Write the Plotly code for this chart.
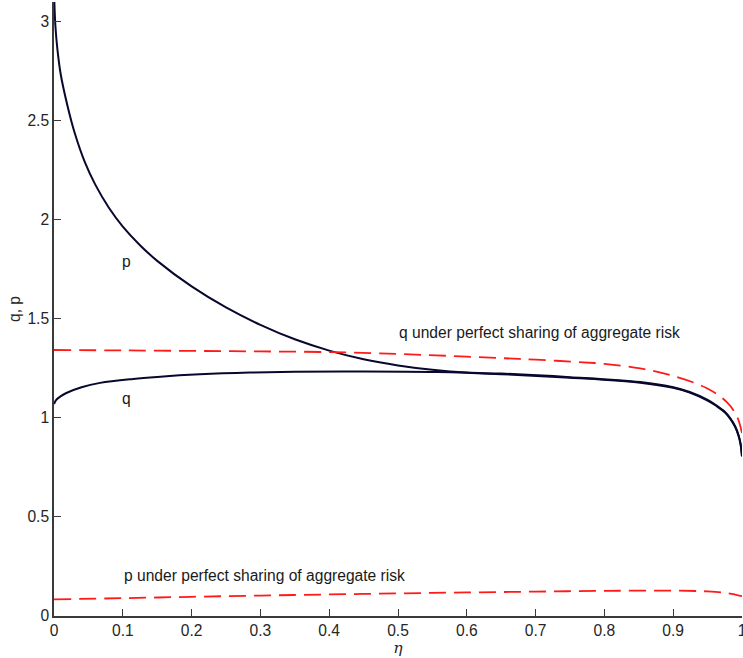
import plotly.graph_objects as go

# eta grid and values
eta_p = [0.0005, 0.002, 0.005, 0.01, 0.02, 0.03, 0.045, 0.06, 0.08, 0.1, 0.125, 0.15,
         0.2, 0.25, 0.3, 0.35, 0.4, 0.45, 0.5, 0.55, 0.6, 0.65, 0.75, 0.852, 0.9, 0.924,
         0.95, 0.963, 0.975, 0.983, 0.99, 0.995, 0.998, 1.0]
p_vals = [3.10, 2.98, 2.86, 2.73, 2.57, 2.44, 2.29, 2.178, 2.06, 1.966, 1.872, 1.793,
          1.664, 1.558, 1.47, 1.397, 1.34, 1.296, 1.265, 1.243, 1.229, 1.224, 1.206, 1.181,
          1.155, 1.131, 1.091, 1.063, 1.031, 0.998, 0.958, 0.913, 0.868, 0.808]

eta_q = [0.0, 0.003, 0.01, 0.018, 0.04, 0.067, 0.115, 0.15, 0.212, 0.285, 0.35, 0.45,
         0.557, 0.65, 0.75, 0.852, 0.9, 0.924, 0.95, 0.963, 0.975, 0.983, 0.99, 0.995,
         0.998, 1.0]
q_vals = [1.07, 1.09, 1.11, 1.126, 1.155, 1.177, 1.197, 1.207, 1.22, 1.229, 1.233, 1.235,
          1.232, 1.221, 1.203, 1.178, 1.152, 1.128, 1.088, 1.06, 1.028, 0.995, 0.955, 0.91,
          0.865, 0.805]

eta_qps = [0.0, 0.1, 0.212, 0.3, 0.406, 0.5, 0.576, 0.65, 0.7, 0.769, 0.8, 0.852, 0.9,
           0.949, 0.978, 0.993, 1.0]
qps_vals = [1.343, 1.341, 1.338, 1.336, 1.332, 1.323, 1.313, 1.302, 1.294, 1.281, 1.273,
            1.25, 1.212, 1.15, 1.08, 1.005, 0.924]

eta_pps = [0.0, 0.1, 0.2, 0.3, 0.4, 0.5, 0.6, 0.7, 0.8, 0.9, 0.95, 0.98, 1.0]
pps_vals = [0.084, 0.09, 0.097, 0.103, 0.109, 0.114, 0.119, 0.123, 0.127, 0.128, 0.124,
            0.115, 0.10]

x_ticks = [0, 0.1, 0.2, 0.3, 0.4, 0.5, 0.6, 0.7, 0.8, 0.9, 1]
x_tick_labels = ["0", "0.1", "0.2", "0.3", "0.4", "0.5", "0.6", "0.7", "0.8", "0.9", "1"]
y_ticks = [0, 0.5, 1, 1.5, 2, 2.5, 3]
y_tick_labels = ["0", "0.5", "1", "1.5", "2", "2.5", "3"]

dark = "#08082e"
red = "#ff1a1a"
FONT = "Liberation Sans, Arial, sans-serif"
FS = 15.6

fig = go.Figure()
fig.add_trace(go.Scatter(x=eta_p, y=p_vals, mode="lines", line=dict(color=dark, width=2),
                         line_shape="spline", showlegend=False))
fig.add_trace(go.Scatter(x=eta_q, y=q_vals, mode="lines", line=dict(color=dark, width=2),
                         line_shape="spline", showlegend=False))
fig.add_trace(go.Scatter(x=eta_qps, y=qps_vals, mode="lines",
                         line=dict(color=red, width=1.8, dash="17px,8px"),
                         line_shape="spline", showlegend=False))
fig.add_trace(go.Scatter(x=eta_pps, y=pps_vals, mode="lines",
                         line=dict(color=red, width=1.8, dash="17px,8px"),
                         line_shape="spline", showlegend=False))

txt_font = dict(family=FONT, size=FS, color="#1a1a1a")
fig.add_annotation(x=0.106, y=1.79, text="p", showarrow=False, font=txt_font, xanchor="center")
fig.add_annotation(x=0.106, y=1.10, text="q", showarrow=False, font=txt_font, xanchor="center")
fig.add_annotation(x=0.499, y=1.43, text="q under perfect sharing of aggregate risk",
                   showarrow=False, font=txt_font, xanchor="left")
fig.add_annotation(x=0.099, y=0.205, text="p under perfect sharing of aggregate risk",
                   showarrow=False, font=txt_font, xanchor="left")

axis_common = dict(showgrid=False, zeroline=False, showline=True, linecolor="#3a3a3a",
                   linewidth=1.5, ticks="inside", ticklen=7, tickwidth=1.3,
                   tickcolor="#3a3a3a", mirror=False, automargin=False,
                   ticklabeloverflow="allow",
                   tickfont=dict(family=FONT, size=FS, color="#262626"))

fig.update_xaxes(range=[0, 1], tickvals=x_ticks, ticktext=x_tick_labels,
                 title=dict(text="<i>η</i>", standoff=1,
                            font=dict(family="DejaVu Serif, serif", size=FS, color="#262626")),
                 **axis_common)
fig.update_yaxes(range=[0, 3.1], tickvals=y_ticks, ticktext=y_tick_labels,
                 title=dict(text="q, p", standoff=3,
                            font=dict(family=FONT, size=FS, color="#262626")),
                 **axis_common)

fig.update_layout(width=743, height=658, margin=dict(l=54, r=1, t=2, b=42),
                  plot_bgcolor="white", paper_bgcolor="white")

fig.write_html("out.html", config={"displayModeBar": False},
               post_script="document.body.style.margin='0';")
